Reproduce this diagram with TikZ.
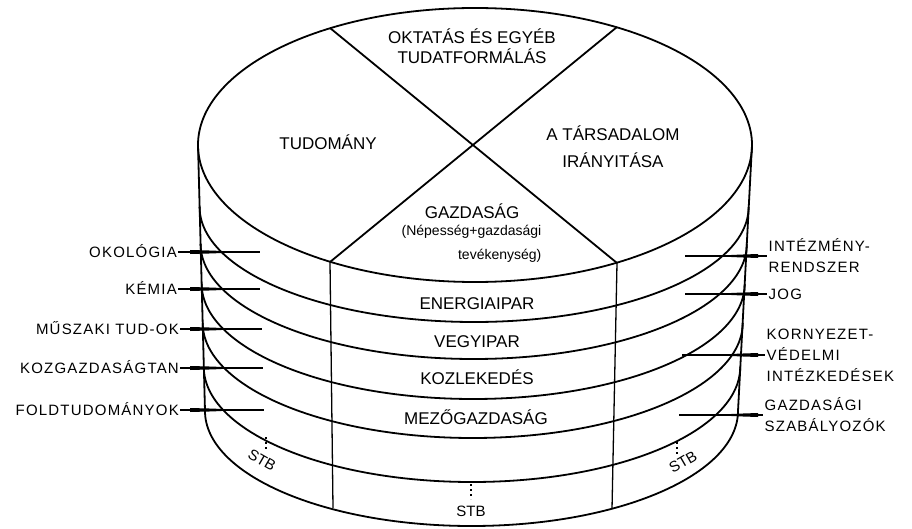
\documentclass[tikz,border=0pt]{standalone}
\usepackage{fontspec}
\setmainfont{Liberation Sans}
\newfontfamily\sidefont[LetterSpace=8]{Liberation Sans}
\usepackage{tikz}
\usetikzlibrary{positioning}
\newcommand{\pinL}[1]{\fill (190,#1-2) -- (213,#1-1.4) -- (242,#1) -- (213,#1+1.4) -- (190,#1+2) -- cycle;}
\newcommand{\pinR}[1]{\fill (758,#1-2) -- (740,#1-1.4) -- (710,#1) -- (740,#1+1.4) -- (758,#1+2) -- cycle;}

\begin{document}
\begin{tikzpicture}[
		x=1pt, y=-1pt,
		rim/.style={line width=1.8pt},
		seam/.style={line width=1.3pt},
		lead/.style={line width=1.1pt},
		sector/.style={font=\fontsize{17}{20}\selectfont, align=center, inner sep=0pt},
		band/.style={font=\fontsize{17}{20}\selectfont, inner sep=0pt, text height=12.3pt, text depth=0pt},
		note/.style={font=\fontsize{14}{24}\selectfont, align=right, inner sep=0pt},
		leftlbl/.style={font=\sidefont\fontsize{15}{21}\selectfont, anchor=east, inner sep=1pt, text height=10.8pt, text depth=0pt},
		rightlbl/.style={font=\sidefont\fontsize{15}{21}\selectfont, anchor=west, align=left, inner sep=1.5pt},
		stb/.style={font=\fontsize{15}{18}\selectfont, inner sep=0pt},
		stbdots/.style={line width=1.6pt, dash pattern=on 1.6pt off 3.4pt}
		]
		
		\path[fill=white, use as bounding box] (0,0) rectangle (912,529);
		
		% top of the cylinder
		\draw[rim] (475,145) ellipse[x radius=277, y radius=137];
		\draw[rim] (330,28) -- (617,263);
		\draw[rim] (330,262) -- (617,27);
		
		% sides
		\draw[rim] (198,145) -- (205,411);
		\draw[rim] (752,145) -- (738,411);
		\draw[seam] (330,262) -- (333,508);
		\draw[seam] (617,263) -- (612,509);
		
		% layers
		\draw[rim] (199.6,207) arc[start angle=180, end angle=0, x radius=274.5, y radius=115];
		\draw[rim] (200.6,244) arc[start angle=180, end angle=0, x radius=273.1, y radius=115];
		\draw[rim] (201.7,284) arc[start angle=180, end angle=0, x radius=271.5, y radius=115];
		\draw[rim] (202.7,323) arc[start angle=180, end angle=0, x radius=270, y radius=115];
		\draw[rim] (203.8,367) arc[start angle=180, end angle=0, x radius=268.2, y radius=115];
		\draw[rim] (205,411) arc[start angle=180, end angle=0, x radius=266.5, y radius=115];
		
		\node[sector] (oktatas) at (472,46.3) {OKTATÁS ÉS EGYÉB\\TUDATFORMÁLÁS};
		\node[band] (tudomany) at (328,143) {TUDOMÁNY};
		\node[sector] (iranyitas) at (613,146.8) {A TÁRSADALOM\\[7pt]IRÁNYITÁSA};
		\node[band] (gazdasag) at (472,212) {GAZDASÁG};
		\node[note] (nepesseg) at (471.5,243.5) {(Népesség+gazdasági\\tevékenység)};
		
		\node[band] (energia) at (477,303) {ENERGIAIPAR};
		\node[band] (vegyipar) at (477,341) {VEGYIPAR};
		\node[band] (kozlek) at (477,378) {KOZLEKEDÉS};
		\node[band] (mezogazd) at (476,418) {MEZŐGAZDASÁG};
		
		\node[stb] (stbM) at (471,511) {STB};
		\node[stb, rotate=-30] (stbL) at (262,460) {STB};
		\node[stb, rotate=30] (stbR) at (683,462) {STB};
		\draw[stbdots] (471,484) -- (471,499);
		\draw[stbdots] (266,437) -- (266,451);
		\draw[stbdots] (677,442) -- (677,454);
		
		% left labels
		\node[leftlbl] (okol) at (178,252) {OKOLÓGIA};
		\node[leftlbl] (kemia) at (178,289) {KÉMIA};
		\node[leftlbl] (muszaki) at (180,329) {MŰSZAKI TUD-OK};
		\node[leftlbl] (kozgazd) at (180,368) {KOZGAZDASÁGTAN};
		\node[leftlbl] (foldtud) at (180,410) {FOLDTUDOMÁNYOK};
		\coordinate (okol-end) at (260,252);
		\coordinate (kemia-end) at (260,289);
		\coordinate (muszaki-end) at (262,329);
		\coordinate (kozgazd-end) at (263,368);
		\coordinate (foldtud-end) at (264,410);
		\draw[lead] (okol) -- (okol-end);
		\draw[lead] (kemia) -- (kemia-end);
		\draw[lead] (muszaki) -- (muszaki-end);
		\draw[lead] (kozgazd) -- (kozgazd-end);
		\draw[lead] (foldtud) -- (foldtud-end);
		\pinL{252} \pinL{289} \pinL{329} \pinL{368} \pinL{410}
		
		% right labels
		\node[rightlbl] (intezm) at (767,256) {INTÉZMÉNY-\\RENDSZER};
		\node[rightlbl, text height=10.8pt, text depth=0pt] (jog) at (767,294) {JOG};
		\node[rightlbl] (kornyez) at (765,355) {KORNYEZET-\\VÉDELMI\\INTÉZKEDÉSEK};
		\node[rightlbl] (gazdszab) at (763,415) {GAZDASÁGI\\SZABÁLYOZÓK};
		\coordinate (intezm-end) at (685,256);
		\coordinate (jog-end) at (685,294);
		\coordinate (kornyez-end) at (682,355);
		\coordinate (gazdszab-end) at (679,415);
		\draw[lead] (intezm-end) -- (intezm);
		\draw[lead] (jog-end) -- (jog);
		\draw[lead] (kornyez-end) -- (kornyez);
		\draw[lead] (gazdszab-end) -- (gazdszab);
		\pinR{256} \pinR{294} \pinR{355} \pinR{415}
		
	\end{tikzpicture}
\end{document}
